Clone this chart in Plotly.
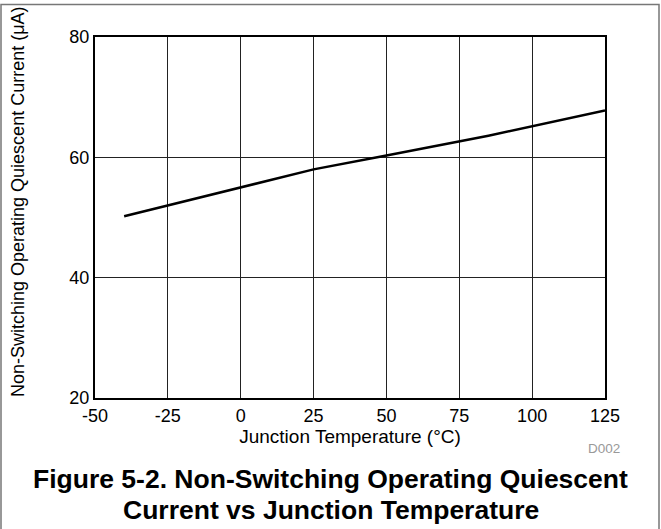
import plotly.graph_objects as go

temperature_c = [-40, 0, 25, 50, 85, 125]
quiescent_ua = [50.2, 55.0, 58.0, 60.3, 63.6, 67.8]

x_ticks = [-50, -25, 0, 25, 50, 75, 100, 125]
y_ticks = [20, 40, 60, 80]

W, H = 661, 529
L, R, T, B = 95, 56, 37, 131
pw, ph = W - L - R, H - T - B

def px2x(px):
    return (px - L) / pw

def py2y(py):
    return 1 - (py - T) / ph

fig = go.Figure()
fig.add_trace(go.Scatter(x=temperature_c, y=quiescent_ua, mode="lines",
                         line=dict(color="black", width=2.5), showlegend=False))

font = "Liberation Sans, Arial, sans-serif"
axis_common = dict(showline=True, linecolor="black", linewidth=2, mirror=True,
                   showgrid=True, gridcolor="#222222", gridwidth=1,
                   zeroline=False, ticks="", tickfont=dict(family=font, size=18, color="black"))

fig.update_xaxes(range=[-50, 125], tickvals=x_ticks, ticktext=[str(v) for v in x_ticks],
                 title=dict(text="Junction Temperature (°C)", font=dict(family=font, size=19, color="black"), standoff=2),
                 **axis_common)
fig.update_yaxes(range=[20, 80], tickvals=y_ticks, **axis_common)

fig.add_annotation(text="Non-Switching Operating Quiescent Current (μA)", xref="paper", yref="paper",
                   x=px2x(18), y=py2y(202), xanchor="center", yanchor="middle", textangle=-90,
                   showarrow=False, font=dict(family=font, size=18, color="black"))
fig.add_annotation(text="D002", xref="paper", yref="paper", x=px2x(604), y=py2y(448),
                   xanchor="center", yanchor="middle", showarrow=False,
                   font=dict(family=font, size=13.5, color="#999999"))
fig.add_annotation(text="<b>Figure 5-2. Non-Switching Operating Quiescent</b>", xref="paper", yref="paper",
                   x=px2x(330), y=py2y(479), xanchor="center", yanchor="middle", showarrow=False,
                   font=dict(family=font, size=26.5, color="black"))
fig.add_annotation(text="<b>Current vs Junction Temperature</b>", xref="paper", yref="paper",
                   x=px2x(331), y=py2y(510), xanchor="center", yanchor="middle", showarrow=False,
                   font=dict(family=font, size=26.5, color="black"))

fig.add_shape(type="rect", xref="paper", yref="paper",
              x0=px2x(1), x1=px2x(659), y0=py2y(540), y1=py2y(4.5),
              line=dict(color="#777777", width=1.5), layer="below")

fig.update_layout(width=W, height=H, margin=dict(l=L, r=R, t=T, b=B),
                  plot_bgcolor="white", paper_bgcolor="white")

fig.write_html("out.html", config={"displayModeBar": False},
               post_script="document.body.style.margin='0';document.body.style.padding='0';")
